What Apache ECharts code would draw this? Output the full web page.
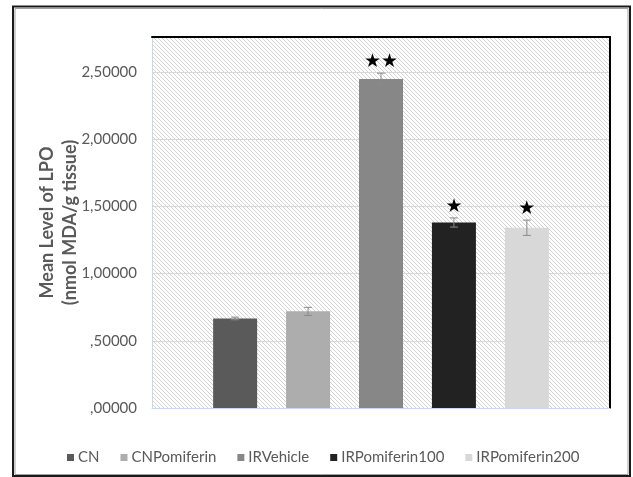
<!DOCTYPE html>
<html>
<head>
<meta charset="utf-8">
<script src="https://cdn.jsdelivr.net/npm/echarts@6/dist/echarts.min.js"></script>
<style>
  html, body { margin: 0; padding: 0; background: #fff; }
  #chart { width: 633px; height: 477px; }
</style>
</head>
<body>
<div id="chart"></div>
<script>
// Groups, mean LPO levels, standard errors and significance marks
const groups = ['CN', 'CNPomiferin', 'IRVehicle', 'IRPomiferin100', 'IRPomiferin200'];
const means = [0.666, 0.719, 2.448, 1.380, 1.341];
const errors = [0.010, 0.030, 0.043, 0.034, 0.057];
const stars = ['', '', '★★', '★', '★'];
const barColors = ['#5a5a5a', '#adadad', '#878787', '#222222', '#d8d8d8'];
const yTicks = [0, 0.5, 1.0, 1.5, 2.0, 2.5];

const yMax = 2.76;
const textColor = '#595959';
const uiFont = 'Lato, "Open Sans", sans-serif';

// diagonal hatch used for the plot area background
function hatchPattern() {
  const c = document.createElement('canvas');
  c.width = 8; c.height = 8;
  const ctx = c.getContext('2d');
  ctx.fillStyle = '#ffffff';
  ctx.fillRect(0, 0, 8, 8);
  ctx.strokeStyle = '#d2d2d2';
  ctx.lineWidth = 1;
  for (let k = -12; k <= 12; k += 4) {
    ctx.beginPath();
    ctx.moveTo(-2, -2 + k);
    ctx.lineTo(10, 10 + k);
    ctx.stroke();
  }
  return { image: c, repeat: 'repeat' };
}

function fmtTick(v) {
  if (!yTicks.some(t => Math.abs(t - v) < 1e-9)) return '';
  return v.toFixed(5).replace('.', ',').replace(/^0/, '');
}

const barSeries = groups.map((name, i) => ({
  name: name,
  type: 'bar',
  barWidth: 44,
  barGap: '-100%',
  itemStyle: { color: barColors[i] },
  data: [[i + 1, means[i]]],
  z: 2
}));

const errorSeries = {
  type: 'custom',
  name: 'error',
  z: 5,
  data: groups.map((g, i) => [i + 1, means[i] - errors[i], means[i] + errors[i]]),
  renderItem: function (params, api) {
    const x = api.value(0);
    const lo = api.coord([x, api.value(1)]);
    const hi = api.coord([x, api.value(2)]);
    const cap = 4;
    const style = { stroke: '#8a8a8a', lineWidth: 1 };
    const children = [
      { type: 'line', shape: { x1: hi[0], y1: hi[1], x2: lo[0], y2: lo[1] }, style: style },
      { type: 'line', shape: { x1: hi[0] - cap, y1: hi[1], x2: hi[0] + cap, y2: hi[1] }, style: style },
      { type: 'line', shape: { x1: lo[0] - cap, y1: lo[1], x2: lo[0] + cap, y2: lo[1] }, style: style }
    ];
    const mark = stars[params.dataIndex];
    if (mark) {
      children.push({
        type: 'text',
        style: {
          text: mark, x: hi[0], y: hi[1] - 11,
          fill: '#000', font: '19px "DejaVu Sans"',
          align: 'center', verticalAlign: 'middle'
        }
      });
    }
    return { type: 'group', children: children };
  }
};

const plainAxis = {
  axisTick: { show: false }, axisLabel: { show: false }, splitLine: { show: false }
};

const chart = echarts.init(document.getElementById('chart'), null, { renderer: 'canvas' });
chart.setOption({
  animation: false,
  backgroundColor: '#ffffff',
  grid: {
    left: 152, top: 37, right: 23, bottom: 69,
    show: true, backgroundColor: hatchPattern(), borderWidth: 0
  },
  legend: {
    data: groups,
    left: 62, top: 445,
    icon: 'rect', itemWidth: 7, itemHeight: 7, itemGap: 21,
    textStyle: { color: textColor, fontSize: 15, fontFamily: uiFont, padding: [0, 0, 0, -1] }
  },
  xAxis: [
    Object.assign({
      type: 'value', min: -0.14, max: 6.14, position: 'bottom',
      axisLine: { show: true, onZero: false, lineStyle: { color: '#c5d9f1', width: 1 } }
    }, plainAxis),
    Object.assign({
      type: 'value', position: 'top', min: -0.14, max: 6.14,
      axisLine: { show: true, onZero: false, lineStyle: { color: '#000', width: 2 } }
    }, plainAxis)
  ],
  yAxis: [
    {
      type: 'value', min: 0, max: yMax, interval: 0.5, position: 'left',
      name: 'Mean Level of LPO\n(nmol MDA/g tissue)',
      nameLocation: 'middle', nameGap: 70, nameRotate: 90, nameMoveOverlap: false,
      nameTextStyle: { color: textColor, fontSize: 18, fontWeight: 'bold', fontFamily: uiFont, lineHeight: 23 },
      axisLine: { show: true, onZero: false, lineStyle: { color: '#c5d9f1', width: 1 } },
      axisTick: { show: false },
      axisLabel: { color: textColor, fontSize: 15, fontFamily: uiFont, margin: 15, formatter: fmtTick, showMaxLabel: false },
      splitLine: { show: true, lineStyle: { color: '#d9d9d9', width: 1 } }
    },
    Object.assign({
      type: 'value', position: 'right', min: 0, max: yMax,
      axisLine: { show: true, onZero: false, lineStyle: { color: '#000', width: 2 } }
    }, plainAxis)
  ],
  graphic: [
    { type: 'rect', shape: { x: 13, y: 6.5, width: 617, height: 469.5 }, style: { fill: null, stroke: '#1a1a1a', lineWidth: 2 }, z: 100 },
    { type: 'rect', shape: { x: 15, y: 8.5, width: 613, height: 466 }, style: { fill: null, stroke: '#a0a0a0', lineWidth: 1 }, z: 100 }
  ],
  series: barSeries.concat([errorSeries])
});
</script>
</body>
</html>
